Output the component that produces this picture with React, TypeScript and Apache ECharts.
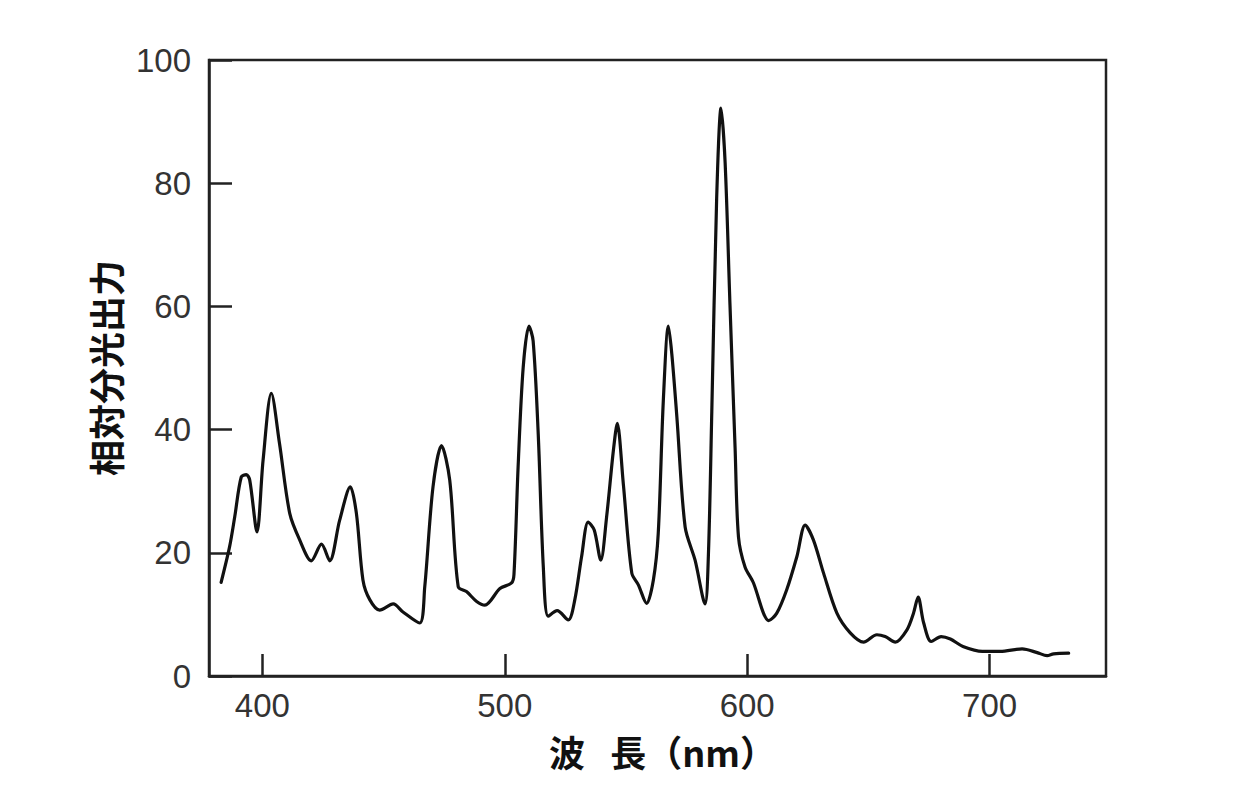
import React, { useEffect, useRef } from "react";
import * as echarts from "echarts";

const wavelengths: number[] = [
  383, 386.5, 388.6, 391.3, 393.4, 394.8, 397.8, 400.3, 403.7, 407.1, 411.3, 415.4, 420.2, 424.4,
  427.8, 431.9, 436.3, 438.8, 441.5, 444.3, 448.4, 454.0, 458.0, 464.9, 467.0, 470.4, 473.9, 477.3,
  480.8, 484.2, 488.4, 491.8, 498.0, 502.8, 503.8, 505.5, 507.6, 510.0, 511.7, 513.8, 515.9, 517.9,
  521.6, 526.2, 528.9, 531.7, 534.4, 536.9, 539.6, 542.0, 544.8, 546.4, 548.9, 552.4, 555.1, 558.5,
  561.3, 563.3, 565.4, 567.5, 568.9, 571.0, 574.4, 578.5, 582.6, 584.0, 585.4, 587.4, 589.2, 590.9,
  592.9, 595.0, 596.4, 599.1, 602.6, 606.7, 608.8, 612.2, 616.3, 620.5, 623.9, 627.3, 631.5, 637.0,
  642.5, 648.0, 653.5, 656.9, 661.1, 665.9, 668.6, 670.5, 672.8, 675.9, 680.0, 683.8, 689.0, 697.0,
  704.4, 713.4, 719.6, 723.7, 726.4, 732.6,
];

const relativeOutput: number[] = [
  15.2, 21.0, 25.8, 32.3, 32.7, 31.8, 23.4, 35.0, 45.9, 37.7, 26.4, 22.1, 18.7, 21.4,
  18.7, 25.3, 30.7, 26.4, 15.6, 12.4, 10.7, 11.7, 10.4, 8.6, 14.5, 30.7, 37.4, 31.8,
  14.5, 13.7, 12.1, 11.5, 14.2, 15.1, 16.5, 33.9, 50.1, 56.8, 54.4, 39.3, 17.7, 9.7,
  10.6, 9.1, 12.4, 19.4, 25.0, 23.7, 18.8, 25.8, 36.6, 41.0, 31.2, 16.7, 14.8, 11.8,
  15.6, 23.1, 44.7, 56.8, 52.3, 42.0, 24.2, 18.8, 11.7, 19.7, 42.9, 77.5, 92.2, 83.3,
  60.2, 37.1, 22.6, 17.7, 15.1, 10.2, 9.0, 10.2, 14.0, 19.4, 24.5, 22.1, 16.7, 10.2,
  7.0, 5.5, 6.7, 6.4, 5.5, 7.5, 10.2, 12.8, 8.6, 5.6, 6.4, 6.0, 4.8, 4.0,
  4.0, 4.4, 3.8, 3.3, 3.6, 3.7,
];

const xTicks: number[] = [400, 500, 600, 700];
const yTicks: number[] = [0, 20, 40, 60, 80, 100];

const xTitle = "波\u2002\u2009長（nm）";
const yTitle = "相対分光出力";

export default function App() {
  const ref = useRef<HTMLDivElement>(null);

  useEffect(() => {
    document.body.style.margin = "0";
    if (!ref.current) return;
    const chart = echarts.init(ref.current, undefined, { renderer: "svg" });
    const data = wavelengths.map((w, i) => [w, relativeOutput[i]]);
    const axisColor = "#222";
    const labelStyle = {
      fontFamily: "Liberation Sans, Arial, sans-serif",
      fontSize: 33,
      color: "#333",
    };
    chart.setOption({
      animation: false,
      backgroundColor: "#ffffff",
      grid: {
        left: 209,
        right: 141,
        top: 60,
        bottom: 132,
        show: true,
        borderColor: axisColor,
        borderWidth: 2.5,
        backgroundColor: "transparent",
      },
      xAxis: {
        type: "value",
        min: 378,
        max: 748,
        name: xTitle,
        nameLocation: "middle",
        nameGap: 57,
        nameTextStyle: {
          fontFamily: "Noto Sans CJK JP",
          fontSize: 36,
          fontWeight: "bold",
          color: "#111",
          padding: [0, 0, 0, 10],
        },
        axisLine: { show: true, lineStyle: { color: axisColor, width: 2.5 } },
        axisTick: {
          show: true,
          inside: true,
          length: 22,
          customValues: xTicks,
          lineStyle: { color: axisColor, width: 2.5 },
        },
        axisLabel: { ...labelStyle, margin: 13, customValues: xTicks },
        splitLine: { show: false },
      },
      yAxis: {
        type: "value",
        min: 0,
        max: 100,
        interval: 20,
        name: yTitle,
        nameLocation: "middle",
        nameRotate: 90,
        nameGap: 86,
        nameTextStyle: {
          fontFamily: "Noto Sans CJK JP",
          fontSize: 36,
          fontWeight: "bold",
          color: "#111",
        },
        axisLine: { show: true, lineStyle: { color: axisColor, width: 2.5 } },
        axisTick: {
          show: true,
          inside: true,
          length: 23,
          customValues: yTicks,
          lineStyle: { color: axisColor, width: 2.5 },
        },
        axisLabel: { ...labelStyle, margin: 18, customValues: yTicks },
        splitLine: { show: false },
      },
      series: [
        {
          type: "line",
          data,
          showSymbol: false,
          smooth: 0.3,
          lineStyle: { color: "#111", width: 3.2, join: "round", cap: "round" },
        },
      ],
    });
    return () => chart.dispose();
  }, []);

  return <div ref={ref} style={{ width: 1247, height: 808 }} />;
}
